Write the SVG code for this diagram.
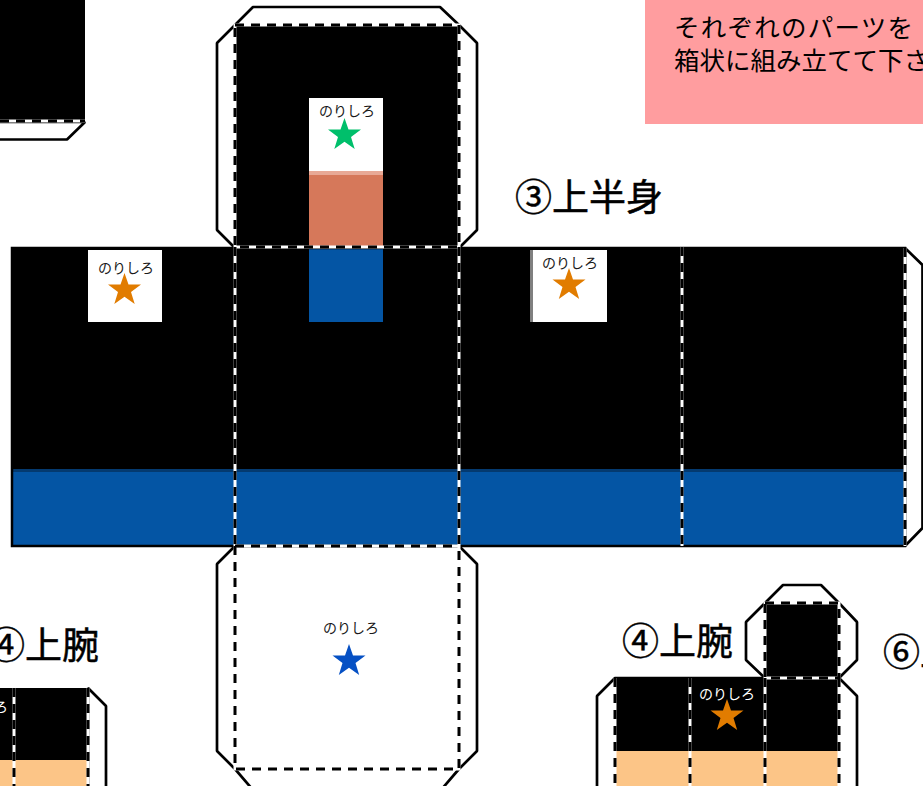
<svg xmlns="http://www.w3.org/2000/svg" width="923" height="786" viewBox="0 0 923 786">
<style>
.flap{fill:#fff;stroke:#000;stroke-width:2.7;stroke-linejoin:bevel}
.blk{fill:#000}
.blue{fill:#0455a4}
.peach{fill:#fcc587}
.w{fill:#fff}
.edge{fill:none;stroke:#000;stroke-width:2.5}
.under{fill:none;stroke:#fff;stroke-width:3}
.dash{fill:none;stroke:#000;stroke-width:3;stroke-dasharray:9 7}
text{font-family:"Noto Sans CJK JP","Noto Sans",sans-serif}
.t{font-size:37px;fill:#000;stroke:#000;stroke-width:.5}
.n{font-size:14px;fill:#1a1a1a}
.nw{font-size:14px;fill:#fff}
.p{font-size:25.500px;fill:#000}
</style>
<defs>
<polygon id="star" points="0,-17 4,-5.5 16.5,-5.5 6.5,2 10.2,14 0,6.8 -10.200,14 -6.500,2 -16.500,-5.500 -4,-5.500"/>
</defs>
<rect width="923" height="786" fill="#fff"/>

<g id="note">
<rect x="645" y="0" width="278" height="124" fill="#ff9d9f"/>
<text class="p" x="674" y="37" textLength="239">それぞれのパーツを</text>
<text class="p" x="674" y="70">箱状に組み立てて下さい</text>
</g>

<g id="part-corner">
<polygon class="flap" points="-5,122 85,122 67,139.500 -5,139.500"/>
<rect class="blk" x="-5" y="-5" width="90" height="126"/>
</g>

<g id="title-3"><text class="t" x="515" y="211">③上半身</text></g>
<g id="title-4a"><text class="t" x="-12" y="659">④上腕</text></g>
<g id="title-4b"><text class="t" x="622" y="655">④上腕</text></g>
<g id="title-6"><text class="t" x="883" y="666">⑥上</text></g>

<g id="torso">
<polygon class="flap" points="235,248 217,230 217,43 235,25 253,7 440,7 459,25 477,43 477,230 459,248"/>
<polygon class="flap" points="235,546 217,564 217,751 235,769 253,790 441,790 459,769 477,751 477,564 459,546"/>
<polygon class="flap" points="905,248 922.500,265 922.500,528 905,546"/>
<rect class="blk" x="235" y="25" width="224" height="223"/>
<rect class="w" x="309" y="98" width="74" height="73"/>
<rect x="309" y="171" width="74" height="77" fill="#d6785a"/>
<rect x="309" y="171" width="74" height="4" fill="#e8a996"/>
<rect class="blk" x="12" y="248" width="893" height="221"/>
<rect class="blue" x="12" y="469" width="893" height="77"/>
<rect x="12" y="469" width="893" height="3" fill="#043a70"/>
<rect class="blue" x="309" y="249" width="74" height="73"/>
<rect class="w" x="88" y="250" width="74" height="72"/>
<rect class="w" x="530" y="250" width="77" height="72"/>
<rect x="530" y="250" width="3" height="72" fill="#808080"/>
<rect class="edge" x="12" y="248" width="893" height="298"/>
<text class="n" x="319" y="116">のりしろ</text>
<use href="#star" x="344.500" y="135" fill="#00bf6b"/>
<text class="n" x="98" y="273">のりしろ</text>
<use href="#star" x="124.500" y="290" fill="#e17c00"/>
<text class="n" x="542" y="268">のりしろ</text>
<use href="#star" x="569" y="285" fill="#e17c00"/>
<text class="n" x="323" y="633">のりしろ</text>
<use href="#star" x="349" y="661" fill="#0550c4"/>
</g>

<g id="arm-left">
<polygon class="flap" points="88,688 106,706 106,790 88,790"/>
<rect class="blk" x="-5" y="688" width="93" height="72"/>
<rect class="peach" x="-5" y="760" width="93" height="30"/>
<text class="nw" x="-48" y="712">のりしろ</text>
</g>

<g id="arm-right">
<polygon class="flap" points="765,603 783,585 821,585 839,603 857,622 857,660 839,678 765,678 746,660 746,622"/>
<polygon class="flap" points="615,678 597,696 597,790 857,790 857,696 839,678"/>
<rect class="blk" x="765" y="603" width="74" height="75"/>
<rect class="blk" x="615" y="678" width="224" height="73"/>
<rect class="peach" x="615" y="751" width="224" height="39"/>
<text class="nw" x="699" y="699">のりしろ</text>
<use href="#star" x="727" y="716" fill="#e17c00"/>
</g>

<g id="folds">
<path class="under" d="M235,25H459V247H235ZM235,247V546M459,247V546M682,247V546M235,546V769H459V546M235,546H459M905,248V546M0,121H85M14,688V790M88,688V790M765,603H839V678H765ZM615,678V790M690,678V790M765,678V790M839,678V790"/>
<path class="dash" d="M235,25H459V247H235ZM235,247V546M459,247V546M682,247V546M235,546V769H459V546M235,546H459M905,248V546M0,121H85M14,688V790M88,688V790M765,603H839V678H765ZM615,678V790M690,678V790M765,678V790M839,678V790"/>
</g>
</svg>
